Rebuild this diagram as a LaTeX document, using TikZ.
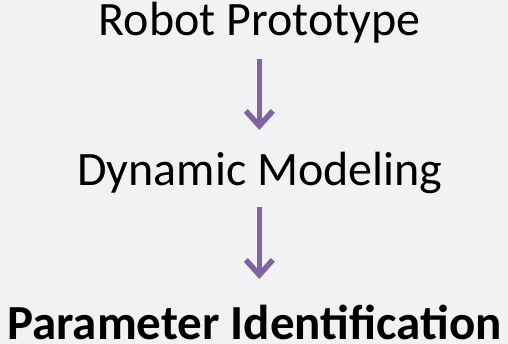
\documentclass[tikz,border=0pt]{standalone}
\usepackage{fontspec}
\setmainfont{Carlito}
\usetikzlibrary{arrows.meta}
\definecolor{bgc}{HTML}{F2F2F4}
\definecolor{arrc}{HTML}{8064A2}
\begin{document}
\begin{tikzpicture}[x=1pt,y=1pt,
  lbl/.style={anchor=base, inner sep=0pt, font=\fontsize{48}{56}\selectfont},
  flow/.style={arrc, line width=4.5pt, -{Straight Barb[length=15pt,width=27pt,line width=5.5pt]}}]
\fill[bgc] (0,0) rectangle (508,344);
\useasboundingbox (0,0) rectangle (508,344);
\node[lbl] (robot) at (259.5,308) {Robot Prototype};
\node[lbl] (dyn) at (260,158) {Dynamic Modeling};
\node[lbl, font=\fontsize{49}{56}\selectfont\bfseries] (param) at (254.5,4.5) {Parameter Identification};
\coordinate (a1s) at (259.3,285);
\coordinate (a1e) at (259.3,214);
\coordinate (a2s) at (259.3,137);
\coordinate (a2e) at (259.3,65);
\draw[flow] (a1s) -- (a1e);
\draw[flow] (a2s) -- (a2e);
\end{tikzpicture}
\end{document}
